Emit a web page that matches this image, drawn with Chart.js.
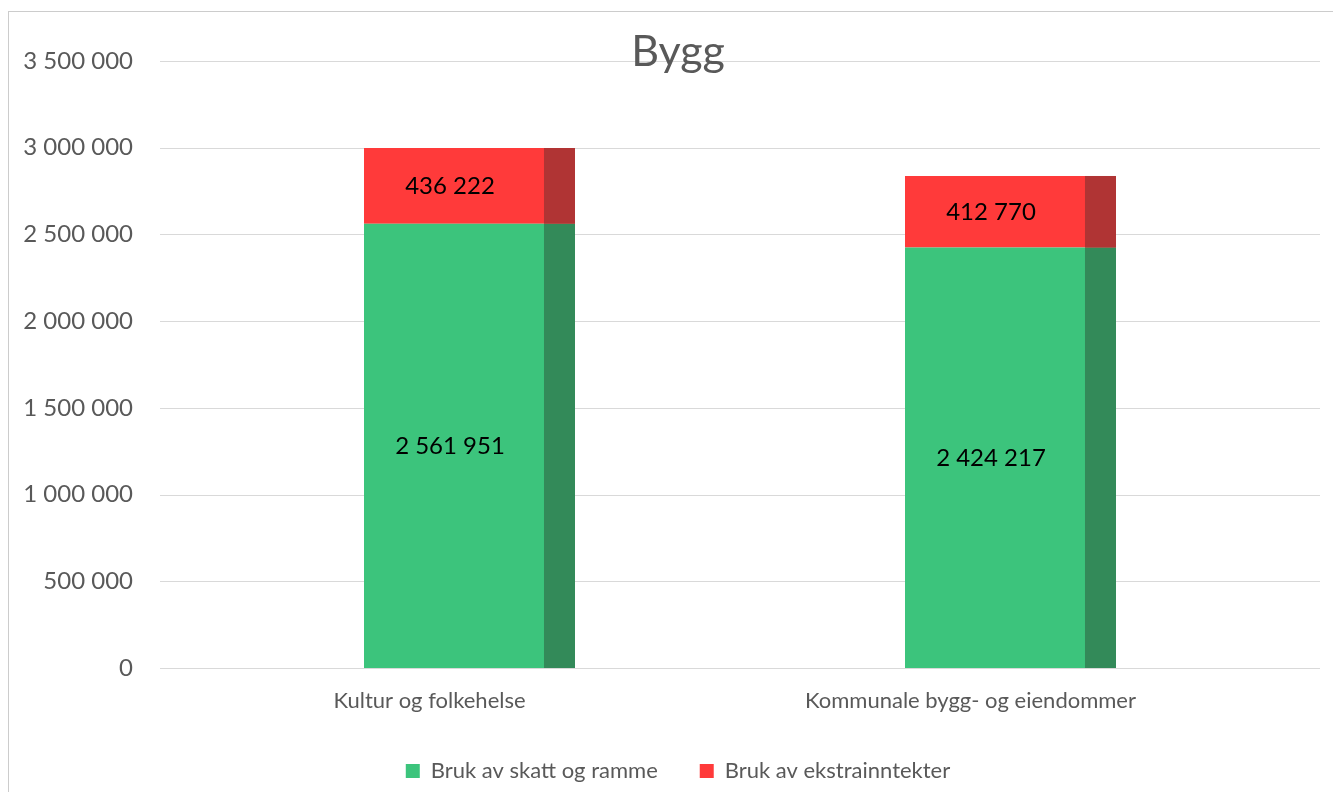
<!DOCTYPE html>
<html>
<head>
<meta charset="utf-8">
<title>Bygg</title>
<script src="https://cdn.jsdelivr.net/npm/chart.js@4.4.0/dist/chart.umd.min.js"></script>
<style>
  html, body { margin: 0; padding: 0; background: #fff; overflow: hidden; }
  #wrap { position: relative; width: 1333px; height: 792px; }
  #myChart { position: absolute; left: 0; top: 0; display: block; }
  #ramme {
    position: absolute; left: 8px; top: 11px; right: -10px; bottom: -10px;
    border-left: 1px solid #cccccc; border-top: 1px solid #cccccc;
    pointer-events: none;
  }
</style>
</head>
<body>
<div id="wrap">
  <canvas id="myChart" width="1333" height="792"></canvas>
  <div id="ramme"></div>
</div>
<script>
const kategorier = ['Kultur og folkehelse', 'Kommunale bygg- og eiendommer'];
const skattOgRamme = [2561951, 2424217];
const ekstrainntekter = [436222, 412770];
const serieNavn = ['Bruk av skatt og ramme', 'Bruk av ekstrainntekter'];
const yMin = 0;
const yMaks = 3500000;
const ySteg = 500000;

Chart.defaults.font.family = 'Lato';

// 3 500 000 - mellomrom som tusenskille
function mellomrom(n) {
    return String(n).replace(/\B(?=(\d{3})+(?!\d))/g, ' ');
}

// horisontale linjer, litt bredere enn selve plottet (som i Excel)
const rutenett = {
    id: 'rutenett',
    beforeDraw(chart) {
        const { ctx, chartArea, scales } = chart;
        const y = scales.y;
        ctx.save();
        ctx.strokeStyle = '#d9d9d9';
        ctx.lineWidth = 1;
        y.ticks.forEach(function (t) {
            const py = Math.round(y.getPixelForValue(t.value)) + 0.5;
            ctx.beginPath();
            ctx.moveTo(chartArea.left - 39, py);
            ctx.lineTo(chartArea.right + 39, py);
            ctx.stroke();
        });
        ctx.restore();
    }
};

// mørk side på søylene + tall midt i hvert segment
const sideOgTall = {
    id: 'sideOgTall',
    afterDatasetsDraw(chart) {
        const ctx = chart.ctx;
        ctx.save();
        chart.data.datasets.forEach(function (ds, i) {
            const meta = chart.getDatasetMeta(i);
            meta.data.forEach(function (bar, j) {
                const p = bar.getProps(['x', 'y', 'base', 'width'], true);
                const sideW = p.width * 0.147;
                const hoyre = p.x + p.width / 2;
                const topp = Math.min(p.y, p.base);
                const hoyde = Math.abs(p.base - p.y);
                ctx.fillStyle = ds.sideColor;
                ctx.fillRect(hoyre - sideW, topp, sideW, hoyde);

                ctx.fillStyle = '#000000';
                ctx.font = '24px Lato';
                ctx.textAlign = 'center';
                ctx.textBaseline = 'middle';
                ctx.fillText(mellomrom(ds.data[j]), p.x - sideW / 2 - 4, topp + hoyde / 2);
            });
        });
        ctx.restore();
    }
};

const ctx = document.getElementById('myChart');
new Chart(ctx, {
    type: 'bar',
    data: {
        labels: kategorier,
        datasets: [
            {
                label: serieNavn[0],
                data: skattOgRamme,
                backgroundColor: '#3cc47c',
                sideColor: '#338a59',
                borderWidth: 0
            },
            {
                label: serieNavn[1],
                data: ekstrainntekter,
                backgroundColor: '#ff3a3a',
                sideColor: '#b03434',
                borderWidth: 0
            }
        ]
    },
    options: {
        responsive: false,
        animation: false,
        categoryPercentage: 1,
        barPercentage: 0.39,
        layout: {
            padding: { left: 23, right: 0, top: 0, bottom: 0 }
        },
        scales: {
            x: {
                stacked: true,
                grid: { display: false, drawTicks: false },
                border: { display: false },
                ticks: {
                    labelOffset: -40,
                    padding: 20,
                    maxRotation: 0,
                    color: '#595959',
                    font: { size: 22 }
                },
                afterFit: function (scale) { scale.height = 50; }
            },
            y: {
                stacked: true,
                min: yMin,
                max: yMaks,
                grid: { display: false, drawTicks: false },
                border: { display: false },
                ticks: {
                    stepSize: ySteg,
                    padding: 66,
                    color: '#595959',
                    font: { size: 24 },
                    callback: function (v) { return mellomrom(v); }
                },
                afterFit: function (scale) {
                    scale.width = 176;
                    // tick-padding skal bare gjelde sidelengs
                    scale.paddingTop = 14;
                    scale.paddingBottom = 14;
                }
            },
            // tom akse til høyre, bare for å gi plass
            yHoyre: {
                position: 'right',
                grid: { display: false, drawTicks: false },
                border: { display: false },
                ticks: { display: false },
                afterFit: function (scale) { scale.width = 52; }
            }
        },
        plugins: {
            title: {
                display: true,
                text: 'Bygg',
                color: '#595959',
                font: { size: 43, weight: 'normal' },
                padding: { top: 26.7, bottom: -17.3 }
            },
            legend: {
                position: 'bottom',
                labels: {
                    boxWidth: 14,
                    boxHeight: 14,
                    padding: 42,
                    color: '#595959',
                    font: { size: 22 }
                }
            },
            tooltip: { enabled: false }
        }
    },
    plugins: [rutenett, sideOgTall]
});
</script>
</body>
</html>
